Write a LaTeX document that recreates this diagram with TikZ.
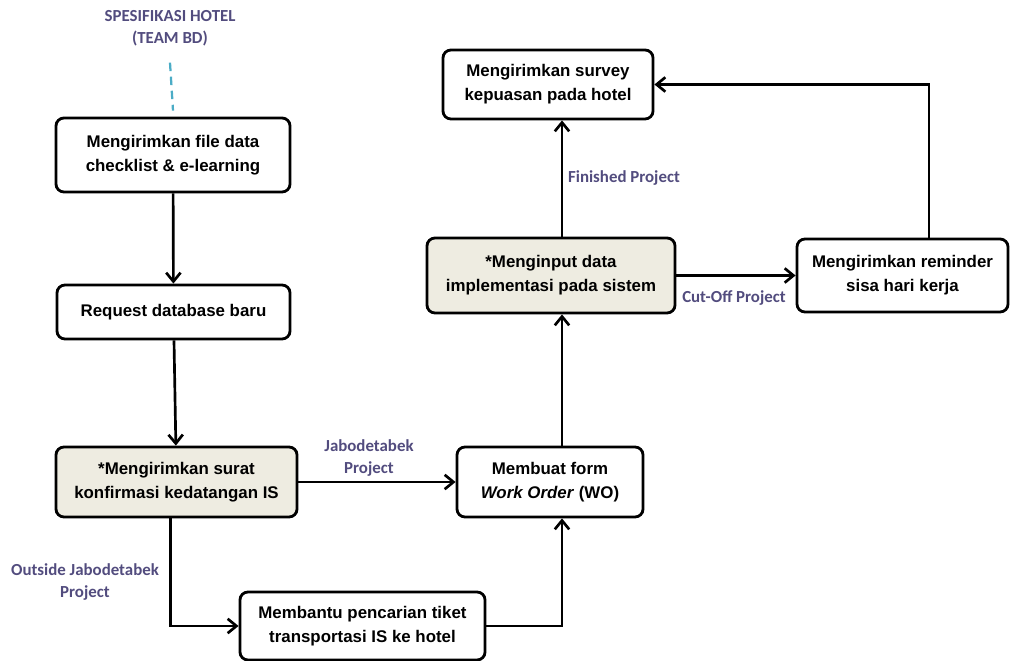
\documentclass[tikz,border=0pt]{standalone}
\usepackage{fontspec}
\setmainfont{Liberation Sans}
\newfontfamily\labelfont{Carlito}
\usepackage{xcolor}
\usetikzlibrary{arrows.meta,positioning,calc}
\definecolor{labelcol}{RGB}{82,76,126}
\definecolor{boxfill}{RGB}{238,236,225}
\definecolor{dashcol}{RGB}{75,172,198}

\begin{document}
\begin{tikzpicture}[x=0.025cm,y=-0.025cm,>={Straight Barb[length=2.2mm,width=3.6mm]},
  kotak/.style={draw,line width=2pt,rounded corners=0.2cm,align=center,
    font=\bfseries\fontsize{12}{17}\selectfont,inner sep=2pt},
  isi/.style={kotak,fill=boxfill},
  ket/.style={text=labelcol,align=center,font=\labelfont\bfseries\fontsize{12}{15.5}\selectfont},
  alur/.style={->,line width=1.9pt}]
  \useasboundingbox (0,0) rectangle (1011,661);
  \node[ket] (judul) at (170,28) {SPESIFIKASI HOTEL\\(TEAM BD)};
  \node[kotak,minimum width=5.85cm,minimum height=1.85cm] (kirimfile) at (173,155)
    {Mengirimkan file data\\checklist \& e-learning};
  \node[kotak,minimum width=5.825cm,minimum height=1.35cm] (request) at (173.5,312)
    {Request database baru};
  \node[isi,minimum width=6.025cm,minimum height=1.75cm] (surat) at (176.5,482)
    {*Mengirimkan surat\\konfirmasi kedatangan IS};
  \node[kotak,minimum width=6.125cm,minimum height=1.7cm] (tiket) at (362.5,626)
    {Membantu pencarian tiket\\transportasi IS ke hotel};
  \node[kotak,minimum width=4.65cm,minimum height=1.75cm] (wo) at (550,482)
    {Membuat form\\\textit{Work Order} (WO)};
  \node[isi,minimum width=6.2cm,minimum height=1.875cm] (input) at (551,275.5)
    {*Menginput data\\implementasi pada sistem};
  \node[kotak,minimum width=5.25cm,minimum height=1.725cm] (survey) at (548,84.5)
    {Mengirimkan survey\\kepuasan pada hotel};
  \node[kotak,minimum width=5.275cm,minimum height=1.825cm] (reminder) at (902.5,275.5)
    {Mengirimkan reminder\\sisa hari kerja};
  \coordinate (kol) at (562,0);
  % keterangan
  \node[ket] (jabo) at (369,458) {Jabodetabek\\Project};
  \node[ket] (luar) at (85,582) {Outside Jabodetabek\\Project};
  \node[ket] (selesai) at (624,178) {Finished Project};
  \node[ket] (cutoff) at (734,298) {Cut-Off Project};
  % alur
  \draw[dashcol,line width=1.6pt,dash pattern=on 6pt off 4pt]
    ([yshift=-0.3cm]judul.south) -- ([yshift=0.15cm]kirimfile.north);
  \draw[alur] (kirimfile) -- (request);
  \draw[alur] (request) -- (surat);
  \draw[alur] (surat.east) -- (wo.west);
  \draw[alur] ([xshift=-0.15cm]surat.south) |- (tiket.west);
  \draw[alur] (tiket.east) -| (wo.south -| kol);
  \draw[alur] (wo.north -| kol) -- (input.south -| kol);
  \draw[alur] (input.north -| kol) -- (survey.south -| kol);
  \draw[alur] (input.east) -- (reminder.west);
  \draw[alur] ([xshift=0.66cm]reminder.north) |- (survey.east);
\end{tikzpicture}
\end{document}
